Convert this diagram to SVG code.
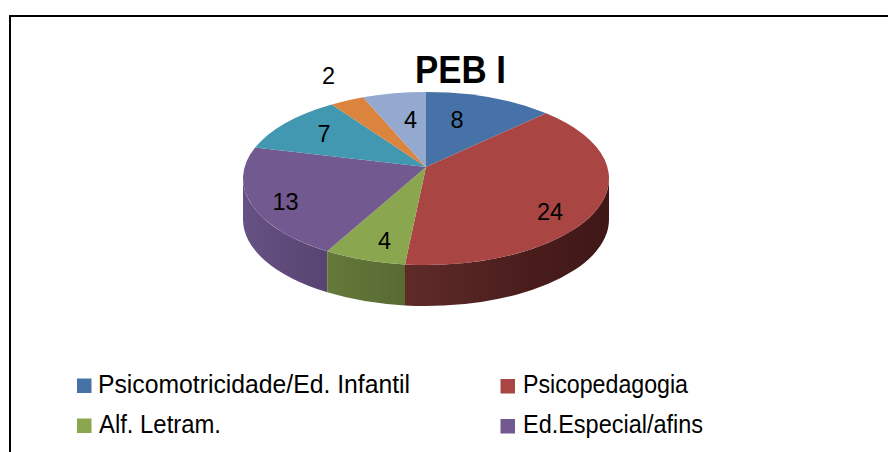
<svg xmlns="http://www.w3.org/2000/svg" width="888" height="452" viewBox="0 0 888 452">
<style>
.lbl{font-family:"Liberation Sans",Arial,sans-serif;font-size:23.5px;fill:#000;text-anchor:middle}
.leg{font-family:"Liberation Sans",Arial,sans-serif;font-size:25px;fill:#000}
.title{font-family:"Liberation Sans",Arial,sans-serif;font-size:39px;font-weight:bold;fill:#000}
</style>
<defs>
<linearGradient id="gPur" gradientUnits="userSpaceOnUse" x1="243" y1="0" x2="327" y2="0">
<stop offset="0" stop-color="#665184"/><stop offset="1" stop-color="#584470"/>
</linearGradient>
<linearGradient id="gGrn" gradientUnits="userSpaceOnUse" x1="327" y1="0" x2="405" y2="0">
<stop offset="0" stop-color="#65793b"/><stop offset="1" stop-color="#586a31"/>
</linearGradient>
<linearGradient id="gRed" gradientUnits="userSpaceOnUse" x1="405" y1="0" x2="609" y2="0">
<stop offset="0" stop-color="#5e2b29"/><stop offset="0.6" stop-color="#4a1d1c"/><stop offset="1" stop-color="#3f1717"/>
</linearGradient>
</defs>
<rect width="888" height="452" fill="#fff"/>
<path d="M10,460 L10,16 L892,16" fill="none" stroke="#000" stroke-width="2"/>
<text class="title" x="415" y="83" textLength="91" lengthAdjust="spacingAndGlyphs">PEB I</text>
<g id="sides">
<path d="M243,178.5 A183,86.5 0 0 0 327.2,251.3 L327.2,292.3 A183,86.5 0 0 1 243,219.5 Z" fill="url(#gPur)"/>
<path d="M327.2,251.3 A183,86.5 0 0 0 405,264.4 L405,305.4 A183,86.5 0 0 1 327.2,292.3 Z" fill="url(#gGrn)"/>
<path d="M405,264.4 A183,86.5 0 0 0 609,178.5 L609,219.5 A183,86.5 0 0 1 405,305.4 Z" fill="url(#gRed)"/>
</g>
<g id="slice-psicomotricidade">
<path d="M426,167 L426,92 A183,86.5 0 0 1 546.1,113.2 Z" fill="#4672a8"/>
<text class="lbl" x="457" y="127.5">8</text>
</g>
<g id="slice-psicopedagogia">
<path d="M426,167 L546.1,113.2 A183,86.5 0 0 1 405,264.4 Z" fill="#a94644"/>
<text class="lbl" x="550" y="219.5">24</text>
</g>
<g id="slice-alf">
<path d="M426,167 L405,264.4 A183,86.5 0 0 1 327.2,251.3 Z" fill="#8aa64f"/>
<text class="lbl" x="384.5" y="248.5">4</text>
</g>
<g id="slice-edespecial">
<path d="M426,167 L327.2,251.3 A183,86.5 0 0 1 255.1,147.6 Z" fill="#72598f"/>
<text class="lbl" x="285.5" y="209.5">13</text>
</g>
<g id="slice-teal">
<path d="M426,167 L255.1,147.6 A183,86.5 0 0 1 331.8,104.4 Z" fill="#4298b0"/>
<text class="lbl" x="324" y="142">7</text>
</g>
<g id="slice-orange">
<path d="M426,167 L331.8,104.4 A183,86.5 0 0 1 363,97.3 Z" fill="#db843d"/>
<text class="lbl" x="328.5" y="83.5">2</text>
</g>
<g id="slice-lightblue">
<path d="M426,167 L363,97.3 A183,86.5 0 0 1 426,92 Z" fill="#93a9cf"/>
<text class="lbl" x="410.5" y="127.5">4</text>
</g>
<g id="connectors"/>
<g id="legend">
<rect x="77" y="378.5" width="14.5" height="14.5" fill="#4672a8"/>
<text class="leg" x="98" y="393" textLength="312" lengthAdjust="spacingAndGlyphs">Psicomotricidade/Ed. Infantil</text>
<rect x="500.5" y="379" width="14.5" height="14.5" fill="#a94644"/>
<text class="leg" x="523" y="393" textLength="165" lengthAdjust="spacingAndGlyphs">Psicopedagogia</text>
<rect x="77" y="418.5" width="14.5" height="14.5" fill="#8aa64f"/>
<text class="leg" x="99" y="432.5" textLength="122" lengthAdjust="spacingAndGlyphs">Alf. Letram.</text>
<rect x="500.5" y="419" width="14.5" height="14.5" fill="#72598f"/>
<text class="leg" x="523" y="432.5" textLength="180" lengthAdjust="spacingAndGlyphs">Ed.Especial/afins</text>
</g>
</svg>
